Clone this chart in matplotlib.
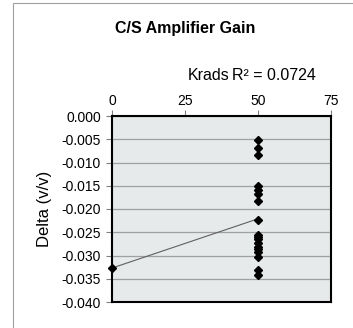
import numpy as np
import matplotlib
matplotlib.use('Agg')
import matplotlib.pyplot as plt
from matplotlib.patches import Rectangle

plt.rcParams['font.family'] = ['Liberation Sans', 'DejaVu Sans']

# Data: dose (Krads) vs gain delta
krads = [0, 50, 50, 50, 50, 50, 50, 50, 50, 50, 50, 50, 50, 50, 50, 50, 50, 50, 50]
delta = [-0.0327,
         -0.0052, -0.0068, -0.0084,
         -0.0151, -0.0160, -0.0167, -0.0182,
         -0.0224,
         -0.0256, -0.0260, -0.0265, -0.0274, -0.0282, -0.0287, -0.0292, -0.0303,
         -0.0331, -0.0342]

x_ticks = [0, 25, 50, 75]
y_ticks = [0.000, -0.005, -0.010, -0.015, -0.020, -0.025, -0.030, -0.035, -0.040]

fig = plt.figure(figsize=(3.53, 3.28), dpi=100)
ax = fig.add_axes([112 / 353, 26 / 328, 219 / 353, 186 / 328])

# Linear trendline (Excel style) through the data
slope, intercept = np.polyfit(krads, delta, 1)
x_fit = np.array([min(krads), max(krads)])
ax.plot(x_fit, slope * x_fit + intercept, color='#606060', lw=0.8, zorder=2)

ax.plot(krads, delta, linestyle='none', marker='D', ms=4.2, color='black', zorder=3,
        clip_on=False)

ax.set_facecolor('#e6eaea')
ax.set_xlim(0, 75)
ax.set_ylim(-0.040, 0.000)
ax.set_xticks(x_ticks)
ax.set_yticks(y_ticks)
ax.set_yticklabels([f'{v:.3f}' if v != 0 else '0.000' for v in y_ticks])
ax.xaxis.tick_top()
ax.tick_params(axis='both', labelsize=10, direction='out', length=4, width=0.8,
               color='#808080')
ax.tick_params(axis='x', pad=2)
ax.tick_params(axis='y', pad=4)
ax.grid(True, axis='y', color='#a0a0a0', lw=0.9)
ax.set_axisbelow(True)
for s in ax.spines.values():
    s.set_linewidth(1.5)
    s.set_color('black')

ax.set_ylabel('Delta (v/v)', fontsize=12, labelpad=7)

fig.text(185 / 353, 1 - 29 / 328, 'C/S Amplifier Gain', ha='center', va='center',
         fontsize=11.5, fontweight='bold')
fig.text(230 / 353, 1 - 75 / 328, 'Krads', ha='right', va='center', fontsize=11.5)
fig.text(232 / 353, 1 - 75 / 328, 'R² = 0.0724', ha='left', va='center', fontsize=11.5)

# chart area frame (cropped at right/bottom)
fig.add_artist(Rectangle((13 / 353, -0.05), 1.0, 1 - 3 / 328 + 0.05,
                         transform=fig.transFigure, fill=False,
                         ec='#a0a0a0', lw=0.8))

fig.savefig('out.png', dpi=100)
